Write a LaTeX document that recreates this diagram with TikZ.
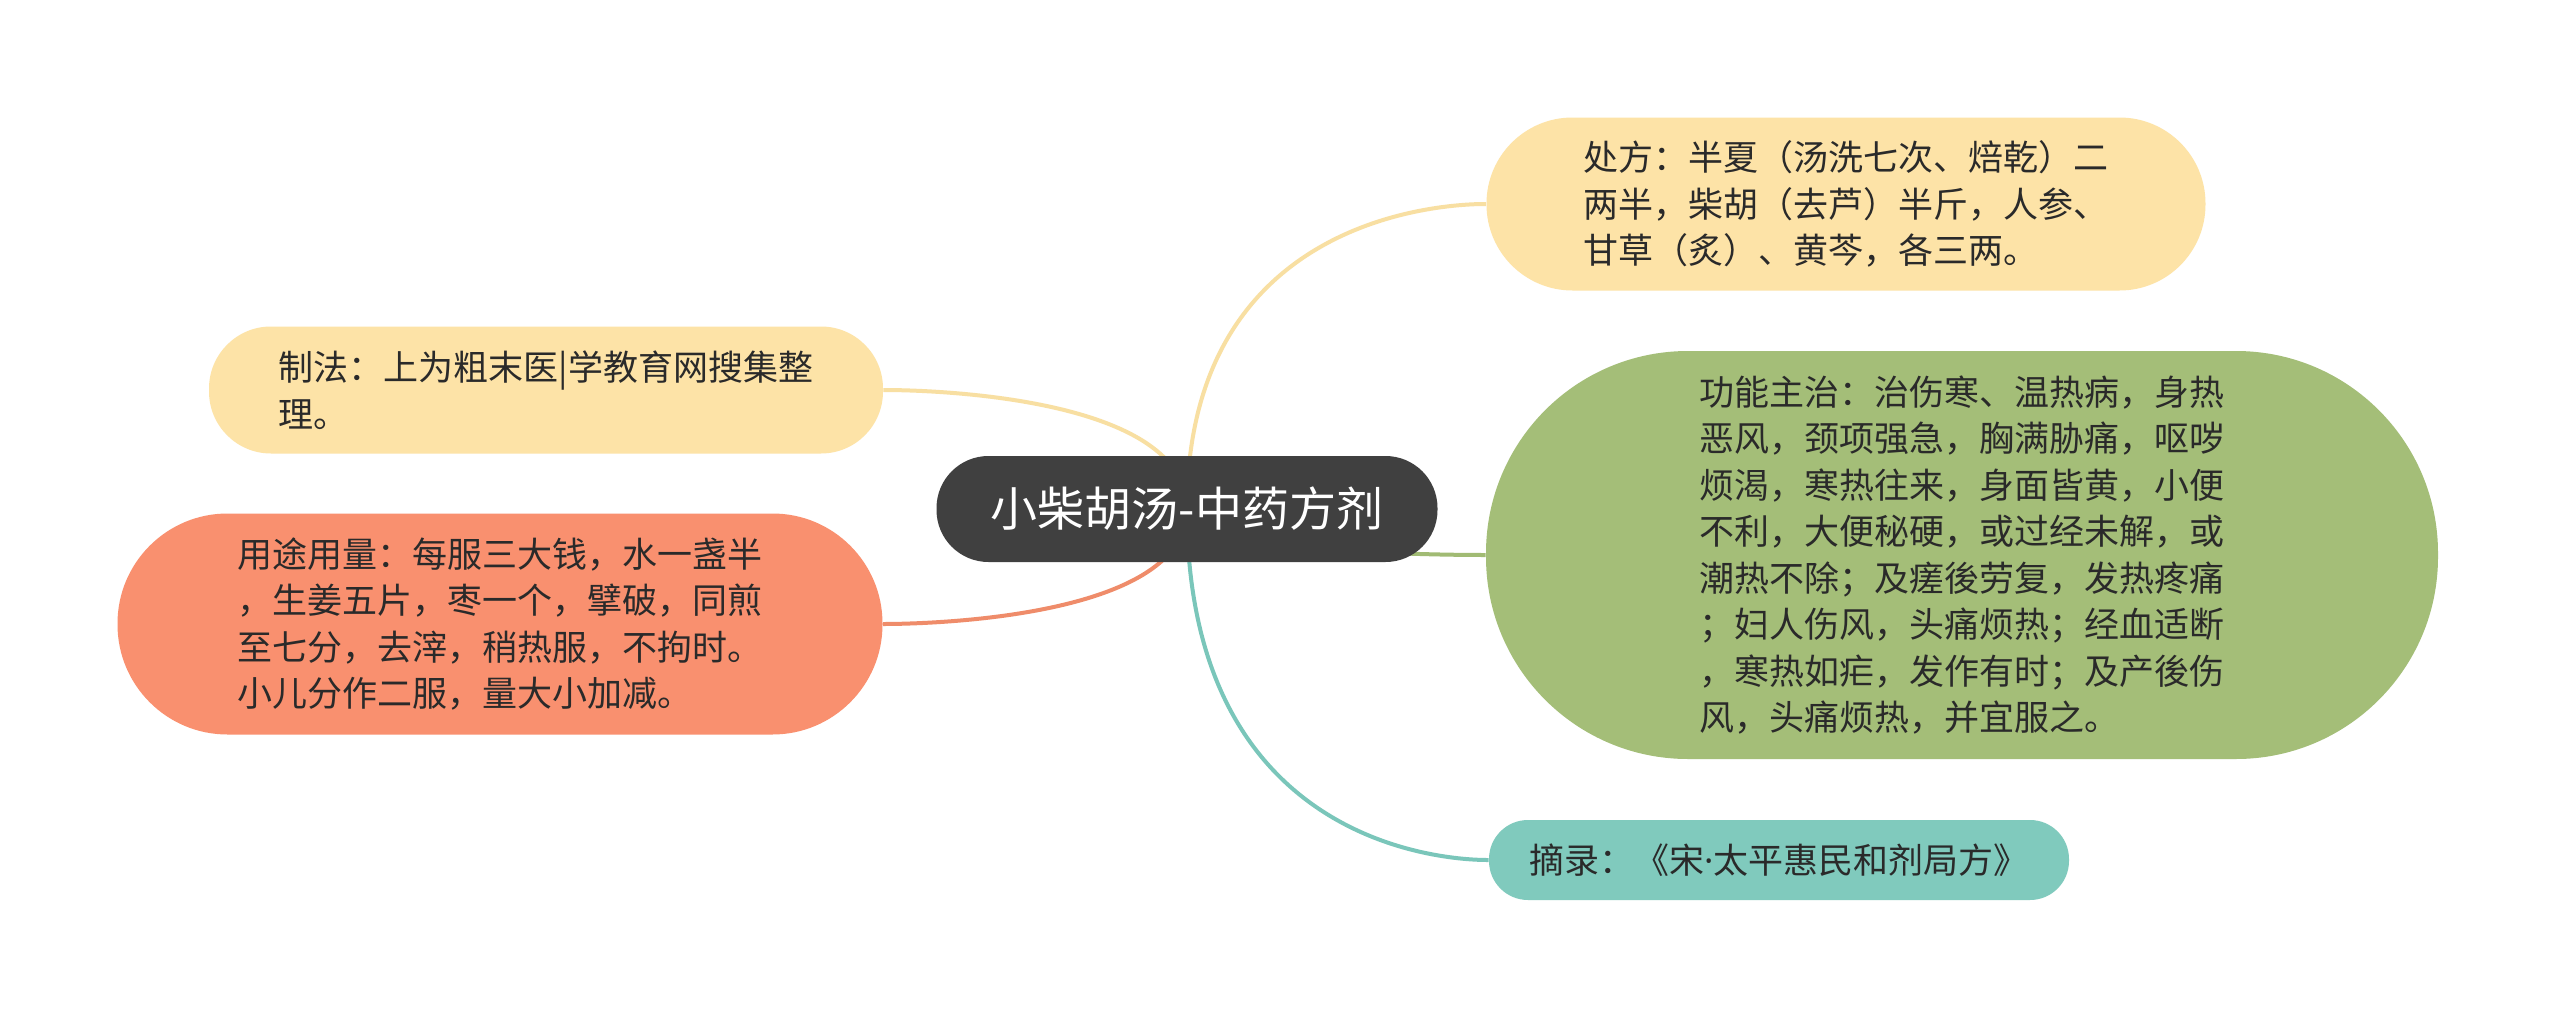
\documentclass[tikz,border=0pt]{standalone}
\usepackage{fontspec}
\newfontfamily\cjk{Noto Sans CJK SC}
\newfontfamily\latn{Noto Sans}
\usetikzlibrary{calc}
\pgfdeclarelayer{bg}
\pgfsetlayers{bg,main}
\definecolor{cdark}{HTML}{404040}
\definecolor{cyel}{HTML}{FDE3A7}
\definecolor{lyel}{HTML}{F8DFA2}
\definecolor{cgreen}{HTML}{A4BE78}
\definecolor{lgreen}{HTML}{A1BB74}
\definecolor{csalmon}{HTML}{F9906F}
\definecolor{lsalmon}{HTML}{EF8C6A}
\definecolor{cteal}{HTML}{80CABD}
\definecolor{lteal}{HTML}{7AC6BA}
\definecolor{ctext}{HTML}{2A2A2A}
\begin{document}
\begin{tikzpicture}[x=0.5pt,y=-0.5pt,
  box/.style={rectangle, inner sep=0pt, align=left, text=ctext,
    font=\cjk\fontsize{17.5pt}{23.25pt}\selectfont},
  conn/.style={line width=2pt}]
\useasboundingbox (0,0) rectangle (2560,1017);
% central node
\node[rectangle, inner sep=0pt, fill=cdark, text=white, rounded corners=26pt,
  minimum width=250.5pt, minimum height=53pt,
  font=\cjk\fontsize{23.5pt}{28pt}\selectfont] (c) at (1187,509) {小柴胡汤-中药方剂};
% right children
\node[box, fill=cyel, rounded corners=43pt, minimum width=359.5pt, minimum height=86.5pt]
  (p) at (1846,204) {处方：半夏（汤洗七次、焙乾）二\\两半，柴胡（去芦）半斤，人参、\\甘草（炙）、黄芩，各三两。};
\node[box, fill=cgreen, rounded corners=101pt, minimum width=476pt, minimum height=204pt]
  (g) at (1962,555) {功能主治：治伤寒、温热病，身热\\恶风，颈项强急，胸满胁痛，呕哕\\烦渴，寒热往来，身面皆黄，小便\\不利，大便秘硬，或过经未解，或\\潮热不除；及瘥後劳复，发热疼痛\\；妇人伤风，头痛烦热；经血适断\\，寒热如疟，发作有时；及产後伤\\风，头痛烦热，并宜服之。};
\node[box, fill=cteal, rounded corners=19.5pt, minimum width=290pt, minimum height=40pt]
  (e) at (1779,860) {摘录：《宋{\latn ·}太平惠民和剂局方》};
% left children
\node[box, fill=cyel, rounded corners=31pt, minimum width=337pt, minimum height=63.5pt]
  (z) at (546,390) {制法：上为粗末医|学教育网搜集整\\理。};
\node[box, fill=csalmon, rounded corners=55pt, minimum width=382.5pt, minimum height=110.5pt]
  (y) at (500,624) {用途用量：每服三大钱，水一盏半\\，生姜五片，枣一个，擘破，同煎\\至七分，去滓，稍热服，不拘时。\\小儿分作二服，量大小加减。};
\begin{pgfonlayer}{bg}
\fill[white] (0,0) rectangle (2560,1017);
\draw[conn, lyel] (c.center) .. controls (c.center |- p.west) and ([xshift=-10pt]p.west) .. (p.west);
\draw[conn, lgreen] (c.center) .. controls (c.center |- g.west) and ([xshift=-10pt]g.west) .. (g.west);
\draw[conn, lteal] (c.center) .. controls (c.center |- e.west) and ([xshift=-10pt]e.west) .. (e.west);
\draw[conn, lyel] (c.center) .. controls (c.center |- z.east) and ([xshift=8pt]z.east) .. (z.east);
\draw[conn, lsalmon] (c.center) .. controls (c.center |- y.east) and ([xshift=8pt]y.east) .. (y.east);
\end{pgfonlayer}
\end{tikzpicture}
\end{document}
